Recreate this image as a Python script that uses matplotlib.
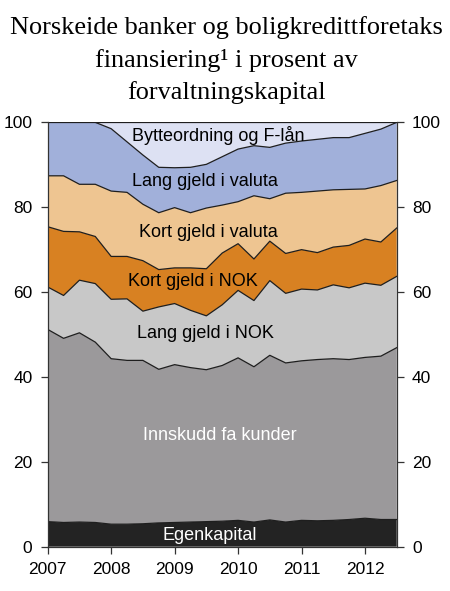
import matplotlib
matplotlib.use("Agg")
import matplotlib.pyplot as plt
import numpy as np

# Quarterly observations 2007Q1 .. 2012Q3
years = [2007 + 0.25 * i for i in range(23)]

egenkapital = [5.9, 5.7, 5.8, 5.7, 5.3, 5.3, 5.4, 5.6, 5.7, 5.8, 5.9, 6.0,
               6.2, 5.8, 6.3, 5.8, 6.2, 6.1, 6.2, 6.4, 6.7, 6.4, 6.4]
innskudd = [45.3, 43.4, 44.6, 42.5, 39.0, 38.6, 38.5, 36.2, 37.2, 36.4, 35.8, 36.7,
            38.3, 36.6, 38.8, 37.5, 37.6, 38.0, 38.1, 37.7, 37.9, 38.5, 40.5]
lang_nok = [10.0, 10.1, 12.4, 13.8, 14.0, 14.5, 11.6, 14.7, 14.4, 13.5, 12.7, 14.3,
            15.9, 15.6, 17.6, 16.4, 16.9, 16.4, 17.4, 16.9, 17.5, 16.7, 16.8]
kort_nok = [14.2, 15.1, 11.4, 11.1, 10.1, 10.0, 11.9, 8.8, 8.4, 10.0, 11.1, 12.2,
            11.0, 9.8, 9.3, 9.4, 9.3, 8.8, 8.9, 10.0, 10.4, 10.2, 11.4]
kort_valuta = [12.0, 13.1, 11.2, 12.3, 15.4, 15.1, 13.3, 13.4, 14.2, 13.0, 14.3, 11.3,
               9.9, 14.9, 10.0, 14.2, 13.5, 14.5, 13.5, 13.2, 11.8, 13.3, 11.2]
lang_valuta = [12.6, 12.6, 14.6, 14.6, 14.7, 11.9, 11.6, 10.7, 9.4, 10.7, 10.3, 11.4,
               12.4, 11.8, 12.1, 11.8, 12.1, 12.2, 12.3, 12.2, 13.1, 13.3, 13.7]
bytteordning = [0.0, 0.0, 0.0, 0.0, 1.5, 4.6, 7.7, 10.6, 10.7, 10.6, 9.9, 8.1,
                6.3, 5.5, 5.9, 4.9, 4.4, 4.0, 3.6, 3.6, 2.6, 1.6, 0.0]

series_names = ["Egenkapital", "Innskudd fa kunder", "Lang gjeld i NOK",
                "Kort gjeld i NOK", "Kort gjeld i valuta", "Lang gjeld i valuta",
                "Bytteordning og F-lån"]
xticks = [2007, 2008, 2009, 2010, 2011, 2012]
yticks = [0, 20, 40, 60, 80, 100]

colors = ["#232323", "#9b999b", "#c8c8c8", "#d88122", "#eec591", "#a1b0da", "#dde1f3"]
label_pos = [(2009.55, 2.6, "white"), (2009.72, 26.3, "white"), (2009.48, 50.2, "black"),
             (2009.28, 62.5, "black"), (2009.53, 74.0, "black"), (2009.47, 86.0, "black"),
             (2009.69, 97.0, "black")]

data = [egenkapital, innskudd, lang_nok, kort_nok, kort_valuta, lang_valuta, bytteordning]
x = np.array(years)

fig = plt.figure(figsize=(4.5, 5.91), dpi=100)
ax = fig.add_axes([0.106, 0.075, 0.7756, 0.718])

ax.stackplot(x, *data, colors=colors, linewidth=0)
cum = np.cumsum(np.array(data), axis=0)
for k in range(len(data)):
    ax.plot(x, cum[k], color="#1e1e1e", lw=0.9)

for (lx, ly, c), name in zip(label_pos, series_names):
    ax.text(lx, ly, name, ha="center", va="center", color=c,
            fontsize=13, family="Liberation Sans")

ax.set_xlim(2007, 2012.5)
ax.set_ylim(0, 100)
ax.set_xticks(xticks)
ax.set_xticklabels([str(t) for t in xticks])
ax.set_yticks(yticks)
ax.tick_params(axis="both", direction="out", length=5, width=0.9, color="#333333",
               labelsize=12.5, labelcolor="black", pad=6)
ax.tick_params(axis="y", right=True, labelright=True)
for lab in ax.get_xticklabels() + ax.get_yticklabels():
    lab.set_family("Liberation Sans")
ax.spines["top"].set_visible(False)
for s in ["left", "right", "bottom"]:
    ax.spines[s].set_color("#333333")
    ax.spines[s].set_linewidth(0.9)

title_lines = ["Norskeide banker og boligkredittforetaks",
               "finansiering\u00b9 i prosent av",
               "forvaltningskapital"]
for line, yb in zip(title_lines, [34, 67, 99]):
    fig.text(0.503, 1 - yb / 591, line, ha="center", va="baseline",
             fontsize=18.9, family="Liberation Serif")

fig.savefig("out.png", dpi=100)
